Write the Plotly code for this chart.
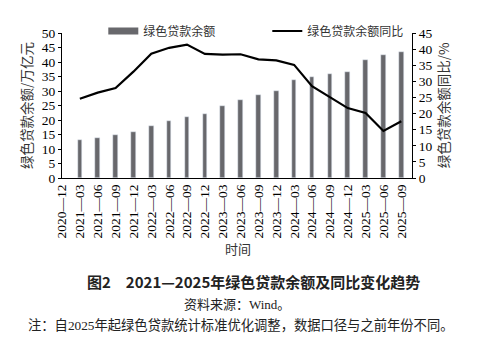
import plotly.graph_objects as go

categories = ["2020—12", "2021—03", "2021—06", "2021—09", "2021—12",
              "2022—03", "2022—06", "2022—09", "2022—12",
              "2023—03", "2023—06", "2023—09", "2023—12",
              "2024—03", "2024—06", "2024—09", "2024—12",
              "2025—03", "2025—06", "2025—09"]
bar_categories = categories[1:]
loan_balance = [13.03, 13.92, 14.78, 15.90, 18.07, 19.55, 20.90, 22.03,
                24.99, 27.05, 28.58, 30.08, 33.77, 34.76, 35.75, 36.60,
                40.58, 42.39, 43.51]
yoy_growth = [24.6, 26.5, 27.9, 33.0, 38.6, 40.4, 41.4, 38.5,
              38.3, 38.4, 36.8, 36.5, 35.1, 28.5, 25.1, 21.7,
              20.2, 14.6, 17.6]

BAR_COLOR = "#68686c"
LATIN = "Liberation Serif, Noto Sans CJK SC"
CJK = "Noto Sans CJK SC"

W, H = 480, 346
L, R, T, B = 61.7, 68.3, 33.0, 167.7
plot_h = H - T - B
plot_w = W - L - R

def py(px):
    return (H - B - px) / plot_h

def px_x(px):
    return (px - L) / plot_w

fig = go.Figure()
fig.add_trace(go.Bar(x=bar_categories, y=loan_balance, marker_color=BAR_COLOR,
                     width=0.26, showlegend=False, name="绿色贷款余额"))
# legend proxy for bar (wide rectangle)
fig.add_trace(go.Scatter(x=[None], y=[None], mode="lines",
                         line=dict(color=BAR_COLOR, width=7), name="绿色贷款余额"))
fig.add_trace(go.Scatter(x=bar_categories, y=yoy_growth, mode="lines",
                         line=dict(color="black", width=2.2), name="绿色贷款余额同比",
                         yaxis="y2"))

fig.update_layout(
    width=W, height=H,
    margin=dict(l=L, r=R, t=T, b=B, pad=0),
    paper_bgcolor="white", plot_bgcolor="white",
    font=dict(family=LATIN, color="black"),
    xaxis=dict(type="category", categoryorder="array", categoryarray=categories,
               range=[0, 19.6], showline=True, linecolor="black", linewidth=1,
               ticks="", tickangle=-90, tickfont=dict(family=LATIN, size=13.5),
               showgrid=False, zeroline=False),
    yaxis=dict(range=[0, 50], dtick=5, showline=True, linecolor="black", linewidth=1,
               ticks="outside", ticklen=3, tickcolor="black",
               tickfont=dict(family=LATIN, size=13.5), showgrid=False, zeroline=False,
               title=dict(text="绿色贷款余额/万亿元", font=dict(family=CJK, size=13.5, color="#333"),
                          standoff=6)),
    yaxis2=dict(range=[0, 45], dtick=5, overlaying="y", side="right",
                showline=True, linecolor="black", linewidth=1,
                ticks="outside", ticklen=3, tickcolor="black",
                tickfont=dict(family=LATIN, size=13.5), showgrid=False, zeroline=False,
                title=dict(text="绿色贷款余额同比/%", font=dict(family=CJK, size=13.5, color="#333"),
                           standoff=8)),
    legend=dict(orientation="h", x=px_x(103), xanchor="left",
                y=py(31), yanchor="middle", font=dict(family=CJK, size=12, color="#333"),
                itemwidth=30, entrywidth=119, bgcolor="rgba(0,0,0,0)"),
    bargap=0,
)

annots = [
    dict(text="时间", x=px_x(238), y=py(249), font=dict(family=CJK, size=13, color="#333")),
    dict(text="<b>图2　2021—2025年绿色贷款余额及同比变化趋势</b>", x=px_x(253), y=py(282),
         font=dict(family=CJK, size=15, color="#222")),
    dict(text="资料来源：Wind。", x=px_x(237), y=py(305),
         font=dict(family=LATIN, size=13, color="#222")),
    dict(text="注：自2025年起绿色贷款统计标准优化调整，数据口径与之前年份不同。", x=px_x(241), y=py(326),
         font=dict(family=LATIN, size=13.3, color="#222")),
]
for a in annots:
    fig.add_annotation(xref="paper", yref="paper", showarrow=False, xanchor="center",
                       yanchor="middle", **a)

fig.write_html("out.html")
